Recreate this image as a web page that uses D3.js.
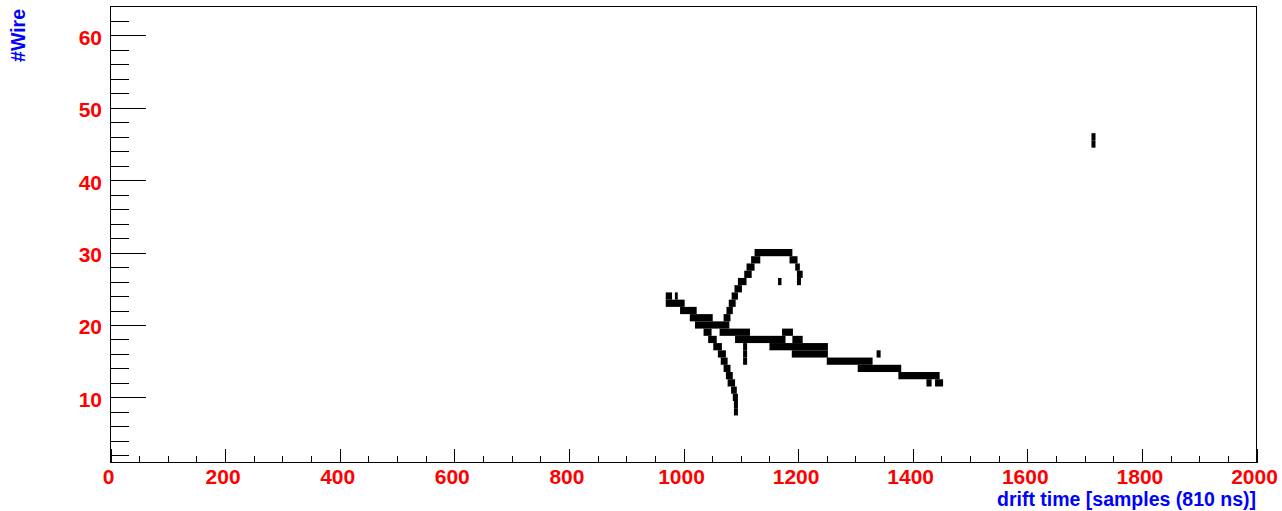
<!DOCTYPE html>
<html>
<head>
<meta charset="utf-8">
<script src="https://cdn.jsdelivr.net/npm/d3@7"></script>
<style>
html,body{margin:0;padding:0;background:#fff;}
svg{display:block;}
text{font-family:"Liberation Sans",Arial,Helvetica,sans-serif;font-weight:bold;}
</style>
</head>
<body>
<svg id="chart" width="1282" height="511"></svg>
<script>
// ---- data: hit cells (wire number, start sample, end sample) ----
const cellWire = [
  30, 29, 29, 28, 28, 27, 27, 26, 26, 26, 25, 24, 23, 22, 21,
  24, 24, 23, 22, 21, 20, 19, 19, 18, 18, 17, 17, 16, 16, 16, 15, 15, 14, 13, 12, 12,
  19, 18, 17, 16, 15, 14, 13, 12, 11, 10, 9, 8,
  46, 45
];
const cellStart = [
  1124, 1118, 1185, 1110, 1195, 1106, 1198, 1095, 1198, 1165, 1089, 1084, 1079, 1075, 1070,
  969, 985, 969, 994, 1011, 1020, 1063, 1172, 1090, 1190, 1150, 1104, 1189, 1104, 1337, 1250, 1104, 1304, 1375, 1424, 1439,
  1035, 1043, 1052, 1060, 1065, 1070, 1074, 1077, 1083, 1086, 1088, 1088,
  1712, 1712
];
const cellEnd = [
  1190, 1134, 1199, 1124, 1203, 1119, 1208, 1110, 1205, 1171, 1102, 1095, 1091, 1086, 1082,
  980, 990, 1002, 1023, 1051, 1080, 1116, 1191, 1178, 1208, 1252, 1111, 1252, 1111, 1344, 1330, 1111, 1380, 1447, 1433, 1453,
  1049, 1058, 1067, 1074, 1077, 1082, 1086, 1090, 1093, 1095, 1095, 1095,
  1719, 1719
];
const xDomain = [0, 2000];
const yDomain = [1, 64];
const xMajorTicks = [0, 200, 400, 600, 800, 1000, 1200, 1400, 1600, 1800, 2000];
const yMajorTicks = [10, 20, 30, 40, 50, 60];
const xTitle = "drift time [samples (810 ns)]";
const yTitle = "#Wire";

// ---- drawing ----
const svg = d3.select("#chart");
const pLeft = 110.5, pRight = 1256.5, pTop = 6.5, pBottom = 462.5;
const x = d3.scaleLinear().domain(xDomain).range([pLeft, pRight]);
const y = d3.scaleLinear().domain(yDomain).range([pBottom, pTop]);

const cells = cellWire.map((w, i) => ({w, t0: cellStart[i], t1: cellEnd[i]}));
svg.append("g").selectAll("rect").data(cells).enter().append("rect")
  .attr("x", d => x(d.t0))
  .attr("width", d => x(d.t1) - x(d.t0))
  .attr("y", d => y(d.w + 0.5))
  .attr("height", d => y(d.w - 0.5) - y(d.w + 0.5))
  .attr("fill", "#000");

// frame
svg.append("rect").attr("x", pLeft).attr("y", pTop)
  .attr("width", pRight - pLeft).attr("height", pBottom - pTop)
  .attr("fill", "none").attr("stroke", "#000").attr("stroke-width", 1)
  .attr("shape-rendering", "crispEdges");

// x axis ticks
const xMinor = d3.range(0, 2001, 50).filter(v => v % 200 !== 0);
const xAxisMajor = d3.axisTop(x).tickValues(xMajorTicks).tickSize(14).tickFormat("");
const xAxisMinor = d3.axisTop(x).tickValues(xMinor).tickSize(7).tickFormat("");
[xAxisMajor, xAxisMinor].forEach(ax => {
  const g = svg.append("g").attr("transform", `translate(0,${pBottom})`).call(ax);
  g.select(".domain").remove();
  g.selectAll("line").attr("stroke", "#000").attr("shape-rendering", "crispEdges");
});
svg.append("g").selectAll("text").data(xMajorTicks).enter().append("text")
  .attr("x", d => x(d) - 2).attr("y", 484)
  .attr("text-anchor", "middle").attr("font-size", 21).attr("fill", "#ff0000")
  .text(d => d);

// y axis ticks
const yMinor = d3.range(2, 64, 2).filter(v => v % 10 !== 0);
const yAxisMajor = d3.axisRight(y).tickValues(yMajorTicks).tickSize(35).tickFormat("");
const yAxisMinor = d3.axisRight(y).tickValues(yMinor).tickSize(18).tickFormat("");
[yAxisMajor, yAxisMinor].forEach(ax => {
  const g = svg.append("g").attr("transform", `translate(${pLeft},0)`).call(ax);
  g.select(".domain").remove();
  g.selectAll("line").attr("stroke", "#000").attr("shape-rendering", "crispEdges");
});
svg.append("g").selectAll("text").data(yMajorTicks).enter().append("text")
  .attr("x", 102).attr("y", d => y(d) + 9.5)
  .attr("text-anchor", "end").attr("font-size", 21).attr("fill", "#ff0000")
  .text(d => d);

// titles
svg.append("text").attr("x", 1256).attr("y", 505.5)
  .attr("text-anchor", "end").attr("font-size", 19.5).attr("fill", "#0000ff")
  .text(xTitle);
svg.append("text").attr("transform", "translate(25,9) rotate(-90)")
  .attr("text-anchor", "end").attr("font-size", 19.5).attr("fill", "#0000ff")
  .text(yTitle);
</script>
</body>
</html>
